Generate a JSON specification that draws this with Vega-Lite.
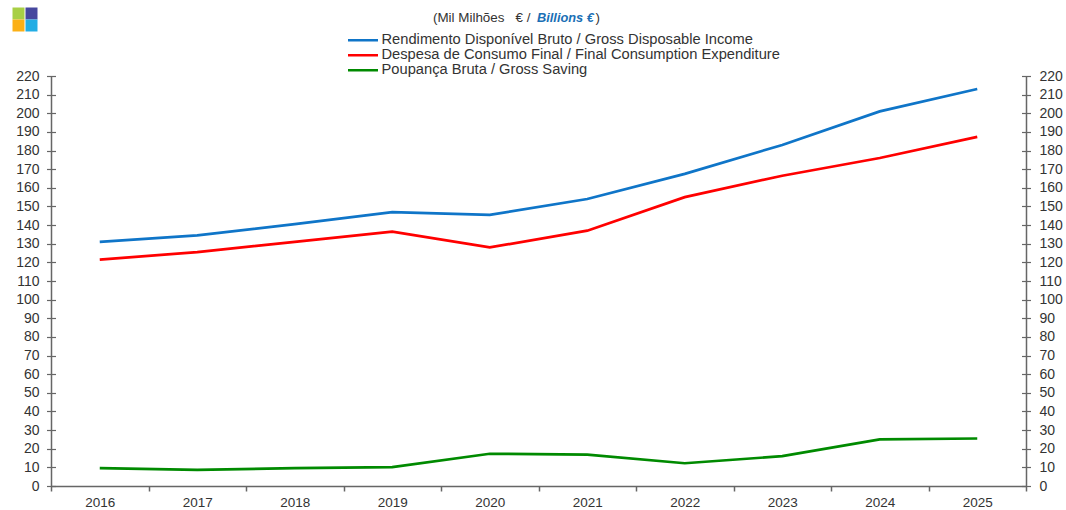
{
"$schema":"https://vega.github.io/schema/vega-lite/v6.json",
"width":975,"height":410,
"autosize":{"type":"none"},
"padding":{"left":51,"top":76,"right":40,"bottom":24},
"background":"white",
"config":{"view":{"stroke":null},"font":"Liberation Sans","text":{"font":"Liberation Sans"}},
"datasets":{"series":[
{"year":"2016","series":"Rendimento Disponível Bruto / Gross Disposable Income","value":131},
{"year":"2017","series":"Rendimento Disponível Bruto / Gross Disposable Income","value":134.5},
{"year":"2018","series":"Rendimento Disponível Bruto / Gross Disposable Income","value":140.5},
{"year":"2019","series":"Rendimento Disponível Bruto / Gross Disposable Income","value":147},
{"year":"2020","series":"Rendimento Disponível Bruto / Gross Disposable Income","value":145.5},
{"year":"2021","series":"Rendimento Disponível Bruto / Gross Disposable Income","value":154},
{"year":"2022","series":"Rendimento Disponível Bruto / Gross Disposable Income","value":167.5},
{"year":"2023","series":"Rendimento Disponível Bruto / Gross Disposable Income","value":183},
{"year":"2024","series":"Rendimento Disponível Bruto / Gross Disposable Income","value":201},
{"year":"2025","series":"Rendimento Disponível Bruto / Gross Disposable Income","value":213},
{"year":"2016","series":"Despesa de Consumo Final / Final Consumption Expenditure","value":121.5},
{"year":"2017","series":"Despesa de Consumo Final / Final Consumption Expenditure","value":125.5},
{"year":"2018","series":"Despesa de Consumo Final / Final Consumption Expenditure","value":131},
{"year":"2019","series":"Despesa de Consumo Final / Final Consumption Expenditure","value":136.5},
{"year":"2020","series":"Despesa de Consumo Final / Final Consumption Expenditure","value":128},
{"year":"2021","series":"Despesa de Consumo Final / Final Consumption Expenditure","value":137},
{"year":"2022","series":"Despesa de Consumo Final / Final Consumption Expenditure","value":155},
{"year":"2023","series":"Despesa de Consumo Final / Final Consumption Expenditure","value":166.5},
{"year":"2024","series":"Despesa de Consumo Final / Final Consumption Expenditure","value":176},
{"year":"2025","series":"Despesa de Consumo Final / Final Consumption Expenditure","value":187.3},
{"year":"2016","series":"Poupança Bruta / Gross Saving","value":9.6},
{"year":"2017","series":"Poupança Bruta / Gross Saving","value":8.7},
{"year":"2018","series":"Poupança Bruta / Gross Saving","value":9.6},
{"year":"2019","series":"Poupança Bruta / Gross Saving","value":10.1},
{"year":"2020","series":"Poupança Bruta / Gross Saving","value":17.3},
{"year":"2021","series":"Poupança Bruta / Gross Saving","value":16.8},
{"year":"2022","series":"Poupança Bruta / Gross Saving","value":12.2},
{"year":"2023","series":"Poupança Bruta / Gross Saving","value":16},
{"year":"2024","series":"Poupança Bruta / Gross Saving","value":25},
{"year":"2025","series":"Poupança Bruta / Gross Saving","value":25.5}
],
"logo":[{"col":0,"row":0,"cell":"a"},{"col":1,"row":0,"cell":"b"},{"col":0,"row":1,"cell":"c"},{"col":1,"row":1,"cell":"d"}]
},
"layer":[
{"data":{"name":"series"},
 "mark":{"type":"line","strokeWidth":2.7,"clip":false},
 "encoding":{
  "x":{"field":"year","type":"ordinal","title":null,
   "scale":{"type":"band","paddingInner":0,"paddingOuter":0},
   "axis":{"labelAngle":0,"tickBand":"extent","tickSize":5,"tickColor":"#666666","domainColor":"#666666","domainWidth":1.5,"tickWidth":1.5,"labelColor":"#333333","labelFontSize":13.5,"labelPadding":4,"grid":false}},
  "y":{"field":"value","type":"quantitative","title":null,
   "scale":{"domain":[0,220],"nice":false},
   "axis":{"orient":"left","values":[0,10,20,30,40,50,60,70,80,90,100,110,120,130,140,150,160,170,180,190,200,210,220],"ticks":false,"grid":false,"domainColor":"#666666","domainWidth":1.5,"labelColor":"#333333","labelFontSize":14,"labelPadding":12,"labelOverlap":false}},
  "color":{"field":"series","type":"nominal",
   "scale":{"domain":["Rendimento Disponível Bruto / Gross Disposable Income","Despesa de Consumo Final / Final Consumption Expenditure","Poupança Bruta / Gross Saving"],"range":["#0f75c8","#ff0000","#008a00"]},
   "legend":{"title":null,"orient":"none","legendX":295.5,"legendY":-43,"symbolType":"stroke","symbolSize":900,"symbolStrokeWidth":2.7,"labelFontSize":14.7,"labelColor":"#333333","labelOffset":2,"rowPadding":-1.5,"clipHeight":14.5,"labelLimit":500,"padding":0}}
 }},
{"mark":{"type":"rule","opacity":0},
 "encoding":{"y":{"datum":0,"type":"quantitative","scale":{"domain":[0,220],"nice":false},
  "axis":{"orient":"left","title":null,"values":[0,10,20,30,40,50,60,70,80,90,100,110,120,130,140,150,160,170,180,190,200,210,220],"labels":false,"domain":false,"grid":false,"tickSize":9,"offset":-4.5,"tickColor":"#666666","tickWidth":1.2}}}},
{"mark":{"type":"rule","opacity":0},
 "encoding":{"y":{"datum":0,"type":"quantitative","scale":{"domain":[0,220],"nice":false},
  "axis":{"orient":"right","title":null,"values":[0,10,20,30,40,50,60,70,80,90,100,110,120,130,140,150,160,170,180,190,200,210,220],"ticks":false,"grid":false,"domainColor":"#666666","domainWidth":1.5,"labelColor":"#333333","labelFontSize":14,"labelPadding":13,"labelOverlap":false}}}},
{"mark":{"type":"rule","opacity":0},
 "encoding":{"y":{"datum":0,"type":"quantitative","scale":{"domain":[0,220],"nice":false},
  "axis":{"orient":"right","title":null,"values":[0,10,20,30,40,50,60,70,80,90,100,110,120,130,140,150,160,170,180,190,200,210,220],"labels":false,"domain":false,"grid":false,"tickSize":9,"offset":-4.5,"tickColor":"#666666","tickWidth":1.2}}}},
{"data":{"name":"logo"},
 "mark":{"type":"point","shape":"square","filled":true,"size":144,"opacity":1,"clip":false},
 "encoding":{
  "x":{"field":"col","type":"quantitative","axis":null,"scale":{"domain":[0,1],"range":[-32.5,-19.5],"nice":false,"zero":false}},
  "y":{"field":"row","type":"quantitative","axis":null,"scale":{"domain":[0,1],"range":[-62.5,-50.5],"nice":false,"zero":false}},
  "fill":{"field":"cell","type":"nominal","legend":null,"scale":{"domain":["a","b","c","d"],"range":["#a8cf45","#46479e","#fbb016","#22ade4"]}}
 }},
{"data":{"values":[{"label":"(Mil Milhões\u00a0\u00a0\u00a0€ /"}]},
 "mark":{"type":"text","x":382,"y":-58,"align":"left","baseline":"middle","fontSize":13.4,"color":"#333333"},
 "encoding":{"text":{"field":"label"}}},
{"data":{"values":[{"label":"Billions €"}]},
 "mark":{"type":"text","x":486,"y":-58,"align":"left","baseline":"middle","fontSize":12.8,"fontWeight":"bold","fontStyle":"italic","color":"#1a6fb5"},
 "encoding":{"text":{"field":"label"}}},
{"data":{"values":[{"label":")"}]},
 "mark":{"type":"text","x":544.5,"y":-58,"align":"left","baseline":"middle","fontSize":13.4,"color":"#333333"},
 "encoding":{"text":{"field":"label"}}}
],
"resolve":{"scale":{"x":"independent","y":"independent","fill":"independent","color":"independent"},"axis":{"y":"independent","x":"independent"}}
}
